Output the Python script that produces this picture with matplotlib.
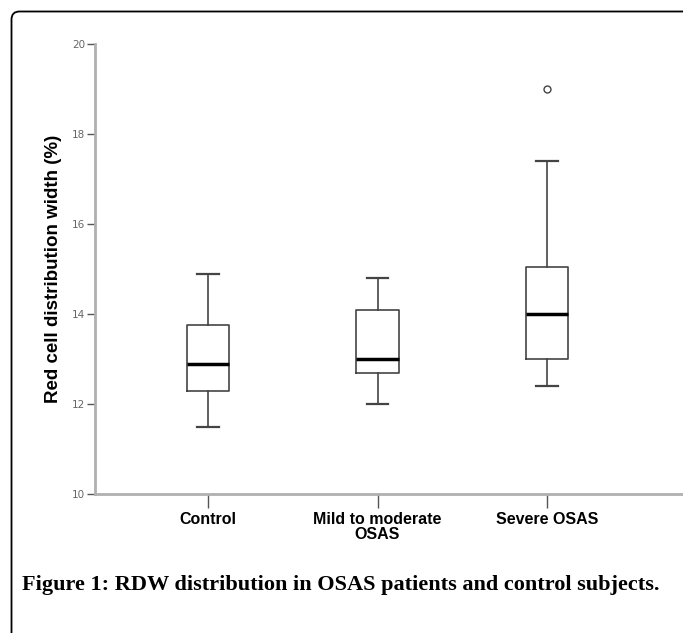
import matplotlib.pyplot as plt
from matplotlib.patches import FancyBboxPatch
from matplotlib.transforms import IdentityTransform

groups = ["Control", "Mild to moderate\nOSAS", "Severe OSAS"]
whisker_low = [11.5, 12.0, 12.4]
q1 = [12.3, 12.7, 13.0]
median = [12.9, 13.0, 14.0]
q3 = [13.75, 14.1, 15.05]
whisker_high = [14.9, 14.8, 17.4]
outliers = [[], [], [19.0]]

stats = []
for i, name in enumerate(groups):
    stats.append({
        "label": name,
        "whislo": whisker_low[i],
        "q1": q1[i],
        "med": median[i],
        "q3": q3[i],
        "whishi": whisker_high[i],
        "fliers": outliers[i],
    })

fig = plt.figure(figsize=(6.83, 6.33), dpi=100)
ax = fig.add_axes([95 / 683, 1 - 494 / 633, 1 - 95 / 683, (494 - 44) / 633])

ax.bxp(
    stats,
    positions=[1, 2, 3],
    widths=0.25,
    capwidths=0.125,
    boxprops=dict(color="#444444", linewidth=1.2),
    whiskerprops=dict(color="#444444", linewidth=1.2),
    capprops=dict(color="#444444", linewidth=1.6),
    medianprops=dict(color="black", linewidth=2.5),
    flierprops=dict(marker="o", markersize=5, markerfacecolor="white",
                    markeredgecolor="#444444", markeredgewidth=1.0),
)

ax.set_xlim(1 - 113 / 169.5, 3 + 136 / 169.5)
ax.set_ylim(10, 20)
ax.set_yticks([10, 12, 14, 16, 18, 20])

for side in ["top", "right"]:
    ax.spines[side].set_visible(False)
for side in ["left", "bottom"]:
    ax.spines[side].set_color("#b0b0b0")
    ax.spines[side].set_linewidth(2)

ax.tick_params(axis="y", length=6, width=1, color="#555555", labelsize=7.5,
               labelcolor="#666666", pad=1)
ax.tick_params(axis="x", length=10, width=1, color="#555555", labelsize=11.5,
               pad=3)
for lbl in ax.get_xticklabels():
    lbl.set_fontweight("bold")
    lbl.set_fontfamily("Liberation Sans")
    lbl.set_linespacing(1.0)

ax.set_ylabel("Red cell distribution width (%)", fontsize=13.5,
              fontweight="bold", family="Liberation Sans", labelpad=7)

fig.text(22 / 683, 1 - 585 / 633,
         "Figure 1: RDW distribution in OSAS patients and control subjects.",
         family="Liberation Serif", fontweight="bold", fontsize=16,
         ha="left", va="center")

frame = FancyBboxPatch((11.5, -50), 800, 633 - 11.5 + 50,
                       boxstyle="round,pad=0,rounding_size=8",
                       transform=IdentityTransform(), fill=False,
                       edgecolor="black", linewidth=1.3)
fig.patches.append(frame)

fig.savefig("out.png", dpi=100)
